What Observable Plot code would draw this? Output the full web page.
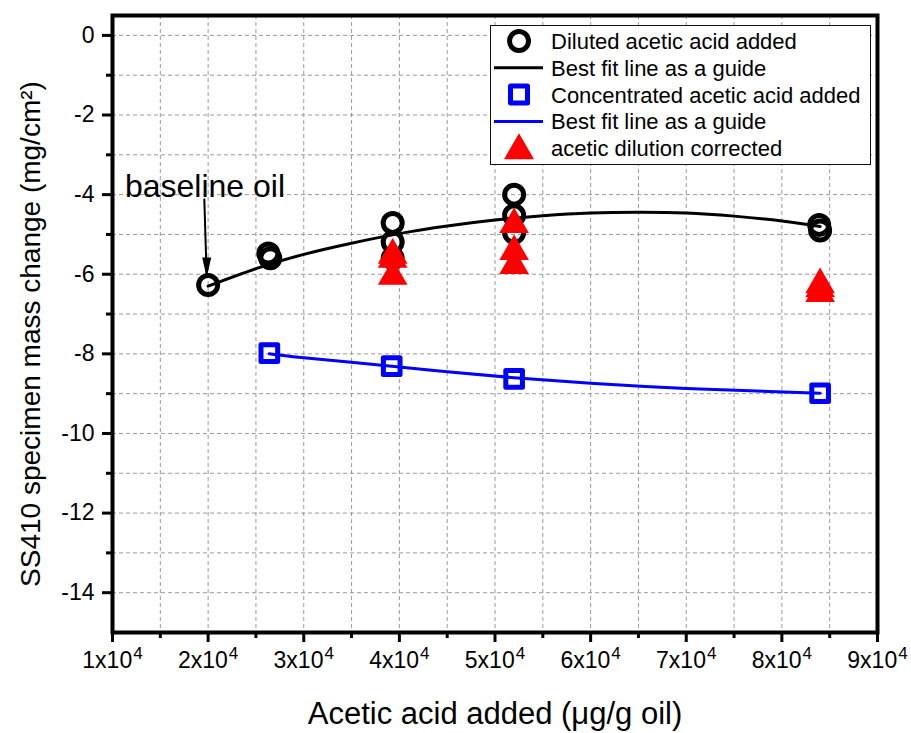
<!DOCTYPE html>
<html>
<head>
<meta charset="utf-8">
<script src="https://cdn.jsdelivr.net/npm/d3@7"></script>
<script src="https://cdn.jsdelivr.net/npm/@observablehq/plot@0.6"></script>
<style>
  body { margin: 0; background: white; font-family: "Liberation Sans", Arial, sans-serif; }
  #wrap { position: relative; width: 911px; height: 733px; }
  #legend { position: absolute; left: 490px; top: 25px; width: 381px; height: 140px;
            box-sizing: border-box; border: 1.5px solid #111; background: white; }
  #ylabel { position: absolute; left: 31px; top: 334px; transform: translate(-50%, -50%) rotate(-90deg);
            white-space: nowrap; font-size: 28px; line-height: 1; color: black; }
</style>
</head>
<body>
<div id="wrap"><div id="legend"></div><div id="ylabel"></div></div>
<script>
// ---- data ----
const dilutedX = [20000, 26300, 26500, 39300, 39300, 39300, 52000, 52000, 52000, 83900, 84000];
const dilutedY = [-6.27, -5.48, -5.6, -4.71, -5.19, -5.6, -4.0, -4.52, -4.96, -4.76, -4.9];

const concX = [26400, 39200, 52000, 84000];
const concY = [-7.98, -8.31, -8.63, -8.99];

const correctedX = [39300, 39300, 39300, 52000, 52000, 52000, 84000, 84000, 84000];
const correctedY = [-5.52, -5.62, -6.05, -4.75, -5.43, -5.78, -6.26, -6.36, -6.48];

const fitBlackX = [20000, 25000, 30000, 35000, 40000, 45000, 50000, 55000, 60000, 65000, 70000, 75000, 80000, 84000];
const fitBlackY = [-6.3, -5.86, -5.5, -5.22, -4.98, -4.79, -4.64, -4.53, -4.46, -4.44, -4.46, -4.54, -4.66, -4.8];

const fitBlueX = [26400, 30000, 39200, 45000, 52000, 60000, 70000, 84000];
const fitBlueY = [-8.0, -8.1, -8.31, -8.45, -8.6, -8.74, -8.87, -8.99];

const xTicks = [10000, 20000, 30000, 40000, 50000, 60000, 70000, 80000, 90000];
const xMinor = [15000, 25000, 35000, 45000, 55000, 65000, 75000, 85000];
const yTicks = [0, -2, -4, -6, -8, -10, -12, -14];
const yMinor = [-1, -3, -5, -7, -9, -11, -13];

const annotText = ["baseline oil"];
const annotX = [11300];
const annotY = [-3.8];
const arrowX1 = [19600], arrowY1 = [-4.1], arrowX2 = [19850], arrowY2 = [-6.08];

const xLabel = "Acetic acid added (μg/g oil)";
const yLabel = "SS410 specimen mass change (mg/cm²)";

const legendLabels = ["Diluted acetic acid added", "Best fit line as a guide",
  "Concentrated acetic acid added", "Best fit line as a guide", "acetic dilution corrected"];
const legendKinds = ["circle", "line", "square", "line", "triangle"];
const legendColors = ["black", "black", "blue", "blue", "red"];

// ---- tables ----
const zip = (xs, ys) => xs.map((x, i) => ({x, y: ys[i]}));
const diluted = zip(dilutedX, dilutedY);
const conc = zip(concX, concY);
const corrected = zip(correctedX, correctedY);
const fitBlack = zip(fitBlackX, fitBlackY);
const fitBlue = zip(fitBlueX, fitBlueY);
const arrows = arrowX1.map((x, i) => ({x1: x, y1: arrowY1[i], x2: arrowX2[i], y2: arrowY2[i]}));
const annots = annotText.map((t, i) => ({t, x: annotX[i], y: annotY[i]}));

const arrowHead = {
  draw(ctx) { ctx.moveTo(0, 0); ctx.lineTo(-4.5, -20); ctx.lineTo(4.5, -20); ctx.closePath(); }
};

const allXGrid = [...xTicks.slice(1, -1), ...xMinor];
const allYGrid = [...yTicks, ...yMinor];

const chart = Plot.plot({
  width: 911, height: 733,
  marginLeft: 112, marginRight: 34, marginTop: 15, marginBottom: 101,
  x: {domain: [10000, 90000]},
  y: {domain: [-15, 0.5]},
  style: {fontFamily: "'Liberation Sans', Arial, sans-serif", color: "black", background: "white", overflow: "visible"},
  marks: [
    Plot.gridX(allXGrid, {stroke: "#9a9a9a", strokeOpacity: 1, strokeWidth: 1, strokeDasharray: "4,3"}),
    Plot.gridY(allYGrid, {stroke: "#9a9a9a", strokeOpacity: 1, strokeWidth: 1, strokeDasharray: "4,3"}),
    Plot.line(fitBlack, {x: "x", y: "y", stroke: "black", strokeWidth: 3, curve: "natural"}),
    Plot.line(fitBlue, {x: "x", y: "y", stroke: "blue", strokeWidth: 3, curve: "natural"}),
    Plot.dot(diluted, {x: "x", y: "y", r: 9.5, stroke: "black", strokeWidth: 5, fill: "none"}),
    Plot.dot(conc, {x: "x", y: "y", symbol: "square", r: 9.4, stroke: "blue", strokeWidth: 5, fill: "none", strokeLinejoin: "round"}),
    Plot.dot(corrected, {x: "x", y: "y", symbol: "triangle", r: 11, fill: "red", stroke: "none"}),
    Plot.link(arrows, {x1: "x1", y1: "y1", x2: "x2", y2: "y2", stroke: "black", strokeWidth: 2}),
    Plot.dot(arrows, {x: "x2", y: "y2", symbol: arrowHead, fill: "black", stroke: "none"}),
    Plot.text(annots, {x: "x", y: "y", text: "t", textAnchor: "start", fontSize: 32}),
    Plot.axisX(xTicks, {tickSize: 10, strokeWidth: 3, tickPadding: 9, fontSize: 23, label: null,
      tickFormat: d => `${d / 10000}x10^4`}),
    Plot.axisX(xMinor, {tickSize: 6, strokeWidth: 3, tickFormat: () => "", label: null}),
    Plot.axisY(yTicks, {tickSize: 10, strokeWidth: 3, tickPadding: 8, fontSize: 23, label: null,
      tickFormat: d => String(d)}),
    Plot.axisY(yMinor, {tickSize: 6, strokeWidth: 3, tickFormat: () => "", label: null}),
    Plot.text([xLabel], {frameAnchor: "bottom", dy: 91, fontSize: 31}),
    Plot.frame({stroke: "black", strokeWidth: 4})
  ]
});

// superscript exponent in x tick labels
d3.select(chart).selectAll("text").each(function () {
  const s = this.textContent;
  const m = /^(.*x10)\^(\d+)$/.exec(s);
  if (m) {
    const t = d3.select(this);
    t.text(null);
    t.append("tspan").text(m[1]);
    t.append("tspan").attr("dx", 1).attr("dy", "-0.5em").attr("font-size", "17px").text(m[2]);
  }
});

const wrap = document.getElementById("wrap");
wrap.insertBefore(chart, wrap.firstChild);
chart.style.position = "absolute";
chart.style.left = "0px";
chart.style.top = "0px";

document.getElementById("ylabel").textContent = yLabel;

// ---- legend ----
const lg = d3.select("#legend").append("svg").attr("width", 378).attr("height", 137)
  .style("font-family", "'Liberation Sans', Arial, sans-serif");
legendLabels.forEach((label, i) => {
  const cy = 15 + i * 26.8;
  const g = lg.append("g");
  const kind = legendKinds[i], col = legendColors[i];
  const cx = 28;
  if (kind === "circle") {
    g.append("circle").attr("cx", cx).attr("cy", cy).attr("r", 9.5).attr("fill", "none").attr("stroke", col).attr("stroke-width", 5);
  } else if (kind === "line") {
    g.append("line").attr("x1", 3).attr("x2", 52).attr("y1", cy).attr("y2", cy).attr("stroke", col).attr("stroke-width", 3);
  } else if (kind === "square") {
    g.append("rect").attr("x", cx - 8.5).attr("y", cy - 8.5).attr("width", 17).attr("height", 17)
      .attr("fill", "none").attr("stroke", col).attr("stroke-width", 5).attr("stroke-linejoin", "round");
  } else if (kind === "triangle") {
    g.append("path").attr("d", `M${cx},${cy - 15}L${cx + 15},${cy + 11}L${cx - 15},${cy + 11}Z`).attr("fill", col);
  }
  g.append("text").attr("x", 60).attr("y", cy + 8).attr("font-size", 22).attr("fill", "black").text(label);
});
</script>
</body>
</html>
